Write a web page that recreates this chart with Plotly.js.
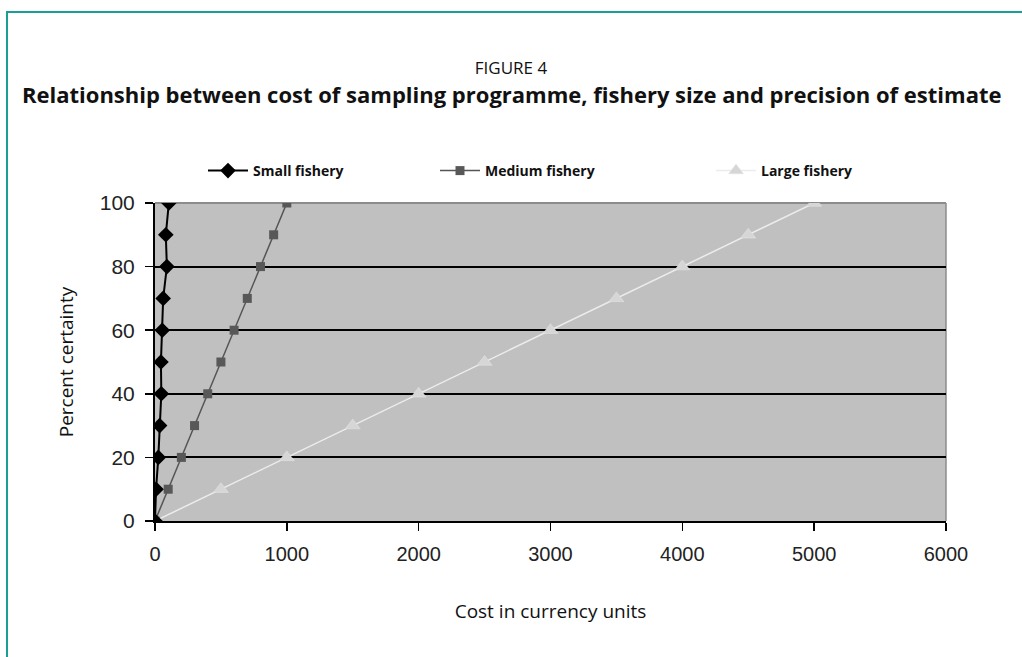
<!DOCTYPE html>
<html>
<head>
<meta charset="utf-8">
<script src="https://cdn.plot.ly/plotly-3.0.1.min.js"></script>
<style>
html,body{margin:0;padding:0;background:#fff;}
#chart{width:1022px;height:657px;}
</style>
</head>
<body>
<div id="chart"></div>
<script>
// Percent certainty (y) for each series
const certainty = [0, 10, 20, 30, 40, 50, 60, 70, 80, 90, 100];
// Cost in currency units (x)
const smallCost  = [0, 8, 25, 35, 48, 45, 55, 62, 90, 82, 105];
const mediumCost = [0, 100, 200, 300, 400, 500, 600, 700, 800, 900, 1000];
const largeCost  = [0, 500, 1000, 1500, 2000, 2500, 3000, 3500, 4000, 4500, 5000];
const seriesNames = ['Small fishery', 'Medium fishery', 'Large fishery'];
const xTicks = [0, 1000, 2000, 3000, 4000, 5000, 6000];
const yTicks = [0, 20, 40, 60, 80, 100];
const yGrid = [20, 40, 60, 80];

const W = 1022, H = 657;
const px = v => v / W;
const py = v => (H - v) / H;

const FONT = '"Open Sans", "Noto Sans", sans-serif';
const NUMFONT = '"Liberation Sans Narrow", "Liberation Sans", Arial, sans-serif';

const traces = [
  {
    x: largeCost, y: certainty, name: seriesNames[2], mode: 'lines+markers',
    line: {color: '#ececec', width: 1.5},
    marker: {symbol: 'triangle-up', size: 13, color: '#d6d6d6', line: {color: '#e6e6e6', width: 0.5}},
    legend: 'legend3'
  },
  {
    x: mediumCost, y: certainty, name: seriesNames[1], mode: 'lines+markers',
    line: {color: '#555555', width: 1.5},
    marker: {symbol: 'square', size: 9, color: '#585858'},
    legend: 'legend2'
  },
  {
    x: smallCost, y: certainty, name: seriesNames[0], mode: 'lines+markers',
    line: {color: '#000000', width: 2},
    marker: {symbol: 'diamond', size: 12, color: '#000000'},
    legend: 'legend'
  }
];

const legendBase = {
  orientation: 'h', yanchor: 'middle', xanchor: 'left', y: py(171),
  font: {family: FONT, size: 14, color: '#111', weight: 700}, bgcolor: 'rgba(0,0,0,0)',
  itemwidth: 40
};

const layout = {
  width: W, height: H,
  margin: {l: 0, r: 0, t: 0, b: 0},
  paper_bgcolor: '#ffffff',
  plot_bgcolor: '#c0c0c0',
  showlegend: true,
  title: {
    text: 'FIGURE 4', font: {family: FONT, size: 17, color: '#111'},
    x: 0.5, xanchor: 'center', xref: 'paper', y: py(68), yanchor: 'middle', yref: 'container'
  },
  annotations: [{
    text: '<b>Relationship between cost of sampling programme, fishery size and precision of estimate</b>',
    xref: 'paper', yref: 'paper', x: px(511), y: py(94), xanchor: 'center', yanchor: 'middle',
    showarrow: false, font: {family: FONT, size: 22, color: '#111'}
  }],
  xaxis: {
    domain: [px(155), px(946)],
    range: [0, 6000], tickvals: xTicks, ticktext: xTicks.map(String),
    showgrid: false, zeroline: false,
    showline: true, linecolor: '#000', linewidth: 2,
    ticks: 'outside', ticklen: 8, tickwidth: 1.5, tickcolor: '#000',
    tickfont: {family: NUMFONT, size: 20, color: '#222'},
    ticklabelstandoff: 6,
    title: {text: 'Cost in currency units', font: {family: FONT, size: 19, color: '#111'}, standoff: 41},
    automargin: false, fixedrange: true
  },
  yaxis: {
    domain: [py(521), py(203)],
    range: [0, 100], tickvals: yTicks, ticktext: yTicks.map(String),
    showgrid: false, zeroline: false,
    showline: true, linecolor: '#000', linewidth: 2,
    ticks: 'outside', ticklen: 8, tickwidth: 1.5, tickcolor: '#000',
    tickfont: {family: NUMFONT, size: 21, color: '#222'},
    ticklabelstandoff: 6,
    title: {text: 'Percent certainty', font: {family: FONT, size: 19, color: '#111'}, standoff: 21},
    automargin: false, fixedrange: true
  },
  yaxis2: {
    overlaying: 'y', domain: [py(521), py(203)],
    range: [0, 100], tickvals: yGrid, showticklabels: false, ticks: '',
    showgrid: true, gridcolor: '#000', gridwidth: 2, zeroline: false, showline: false,
    fixedrange: true
  },
  legend: Object.assign({}, legendBase, {x: px(203)}),
  legend2: Object.assign({}, legendBase, {x: px(435)}),
  legend3: Object.assign({}, legendBase, {x: px(711)}),
  shapes: [
    // grey plot border top and right
    {type: 'line', xref: 'paper', yref: 'paper', x0: px(155), x1: px(946), y0: py(203), y1: py(203),
     line: {color: '#8c8c8c', width: 2}, layer: 'below'},
    {type: 'line', xref: 'paper', yref: 'paper', x0: px(946), x1: px(946), y0: py(521), y1: py(203),
     line: {color: '#8c8c8c', width: 1.5}, layer: 'below'},
    // teal frame
    {type: 'line', xref: 'paper', yref: 'paper', x0: px(7), x1: px(7), y0: py(12), y1: 0,
     line: {color: '#1a9e96', width: 2}},
    {type: 'line', xref: 'paper', yref: 'paper', x0: px(6), x1: 1, y0: py(12), y1: py(12),
     line: {color: '#1a9e96', width: 2}}
  ]
};

// invisible helper trace so yaxis2 (grid lines only) is drawn
traces.push({x: [0], y: [0], yaxis: 'y2', mode: 'markers', marker: {opacity: 0},
  showlegend: false, hoverinfo: 'skip'});

Plotly.newPlot('chart', traces, layout, {displayModeBar: false, staticPlot: true});
</script>
</body>
</html>
